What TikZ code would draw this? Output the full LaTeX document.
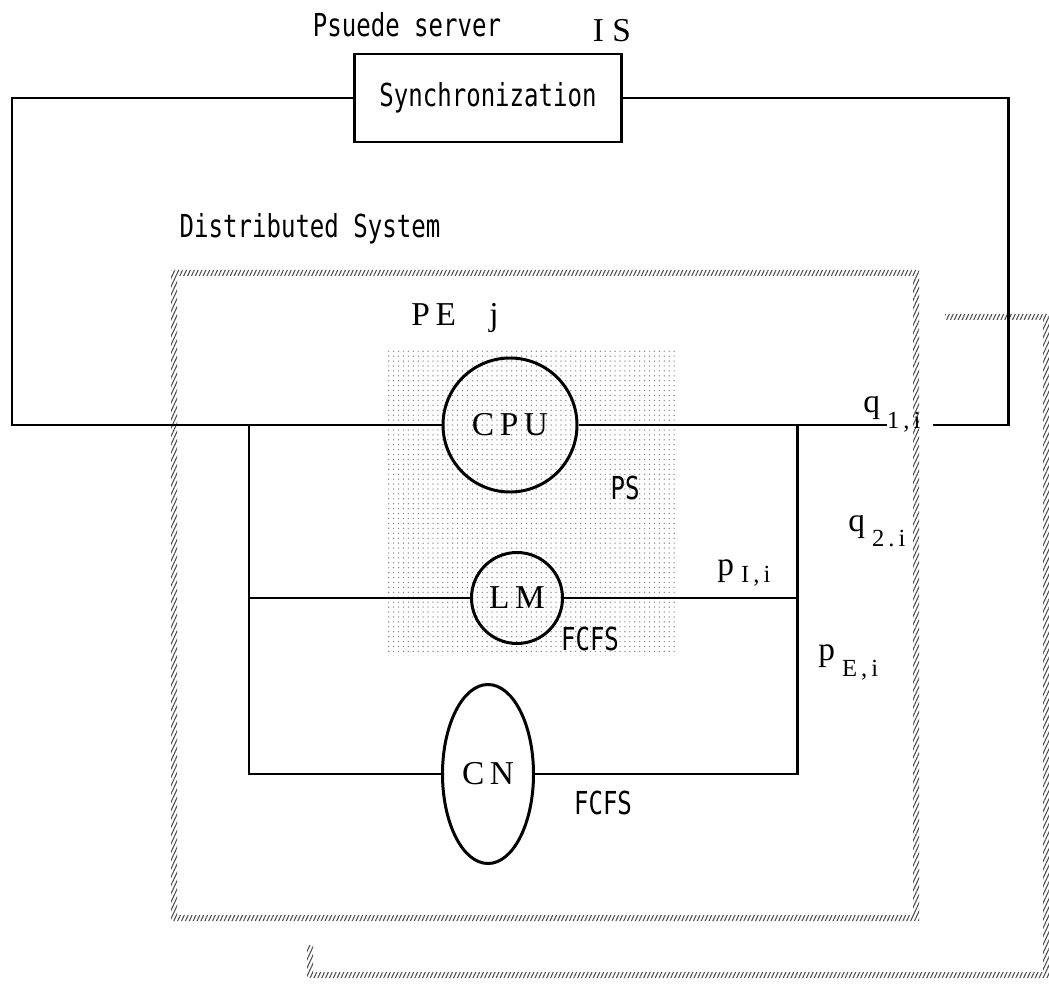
\documentclass[tikz,border=0pt]{standalone}
\usepackage{fontspec}
\newfontfamily\monofnt[FakeStretch=0.76]{DejaVu Sans Mono}
\newfontfamily\seriffnt{Liberation Serif}
\usetikzlibrary{positioning,shapes.geometric,patterns.meta}
\tikzset{
  wire/.style   ={line width=1.7pt},
  srv/.style    ={draw, line width=1.4pt, minimum width=5.34cm, minimum height=1.76cm, font=\monofnt\fontsize{18}{20}\selectfont},
  queue/.style  ={draw, circle, line width=1.7pt, inner sep=0pt, font=\seriffnt\fontsize{19}{20}\selectfont},
  mono/.style   ={font=\monofnt\fontsize{18}{20}\selectfont, inner sep=0pt},
  serif/.style  ={font=\seriffnt\fontsize{19}{20}\selectfont, inner sep=0pt},
  hatch/.style  ={pattern={Lines[angle=65,distance=2pt,line width=0.6pt]}, pattern color=black!70, even odd rule},
  stipple/.style={pattern={Dots[distance=2.8pt,radius=0.4pt]}, pattern color=black!50},
}
\newcommand{\sublab}[3]{#1\kern4pt\raisebox{#3}{\fontsize{14}{14}\selectfont #2}}

\begin{document}
\begin{tikzpicture}[x=0.2mm,y=-0.2mm]
  \useasboundingbox (0,0) rectangle (1049,986);
  % PE boxes (the second one sits behind)
  \fill[hatch] (307,314) rectangle (1049,978) (313,320) rectangle (1043,972);
  \fill[white] (145,245) rectangle (945,945);
  \fill[hatch] (171,270) rectangle (919,921) (177,276) rectangle (913,915);
  \fill[stipple] (387,348) rectangle (677,655);

  % pseudo server on top
  \node[mono]  (psrv) at (407,25) {Psuede server};
  \node[serif] (is)   at (612,31) {I S};
  \node[srv]   (sync) at (488,98) {Synchronization};
  \node[mono]  (ds)   at (310,229) {Distributed System};

  % queues of PE j
  \node[serif] (pej) at (455,318) {P\,E\quad j};
  \node[queue, minimum size=2.68cm] (cpu) at (510,425) {C\,P\,U};
  \node[queue, minimum size=1.82cm] (lm)  at (517,598) {L\,M};
  \node[queue, ellipse, minimum width=1.82cm, minimum height=3.58cm] (cn) at (488,774) {C\,N};
  \node[mono] (ps)    at (625,488) {PS};
  \node[mono] (fcfsl) at (590,639) {FCFS};
  \node[mono] (fcfsc) at (603,803) {FCFS};

  % routing probabilities
  \node[serif, anchor=base west] (q1) at (863,413) {\sublab{q}{1\,,\,i}{-9pt}};
  \node[serif, anchor=base west] (q2) at (848,531) {\sublab{q}{2\,.\,i}{-9pt}};
  \node[serif, anchor=base west] (p1) at (717,575) {\sublab{p}{I\,,\,i}{-4pt}};
  \node[serif, anchor=base west] (pE) at (818,660) {\sublab{p}{E\,,\,i}{-9.5pt}};

  \coordinate (lc) at (12,260);
  \coordinate (rc) at (1008,260);
  \coordinate (jl) at (249,425);
  \coordinate (jr) at (797,425);
  \coordinate (qa) at (887,425);
  \coordinate (qb) at (933,425);

  \draw[wire] (sync.west) -| (lc) |- (cpu.west);
  \draw[wire] (cpu.east) -- (qa);
  \draw[wire] (qb) -| (rc) |- (sync.east);
  \draw[wire] (jl) |- (cn.west);
  \draw[wire] (jr) |- (cn.east);
  \draw[wire] (jl |- lm.west) -- (lm.west);
  \draw[wire] (lm.east) -- (jr |- lm.east);
\end{tikzpicture}
\end{document}
